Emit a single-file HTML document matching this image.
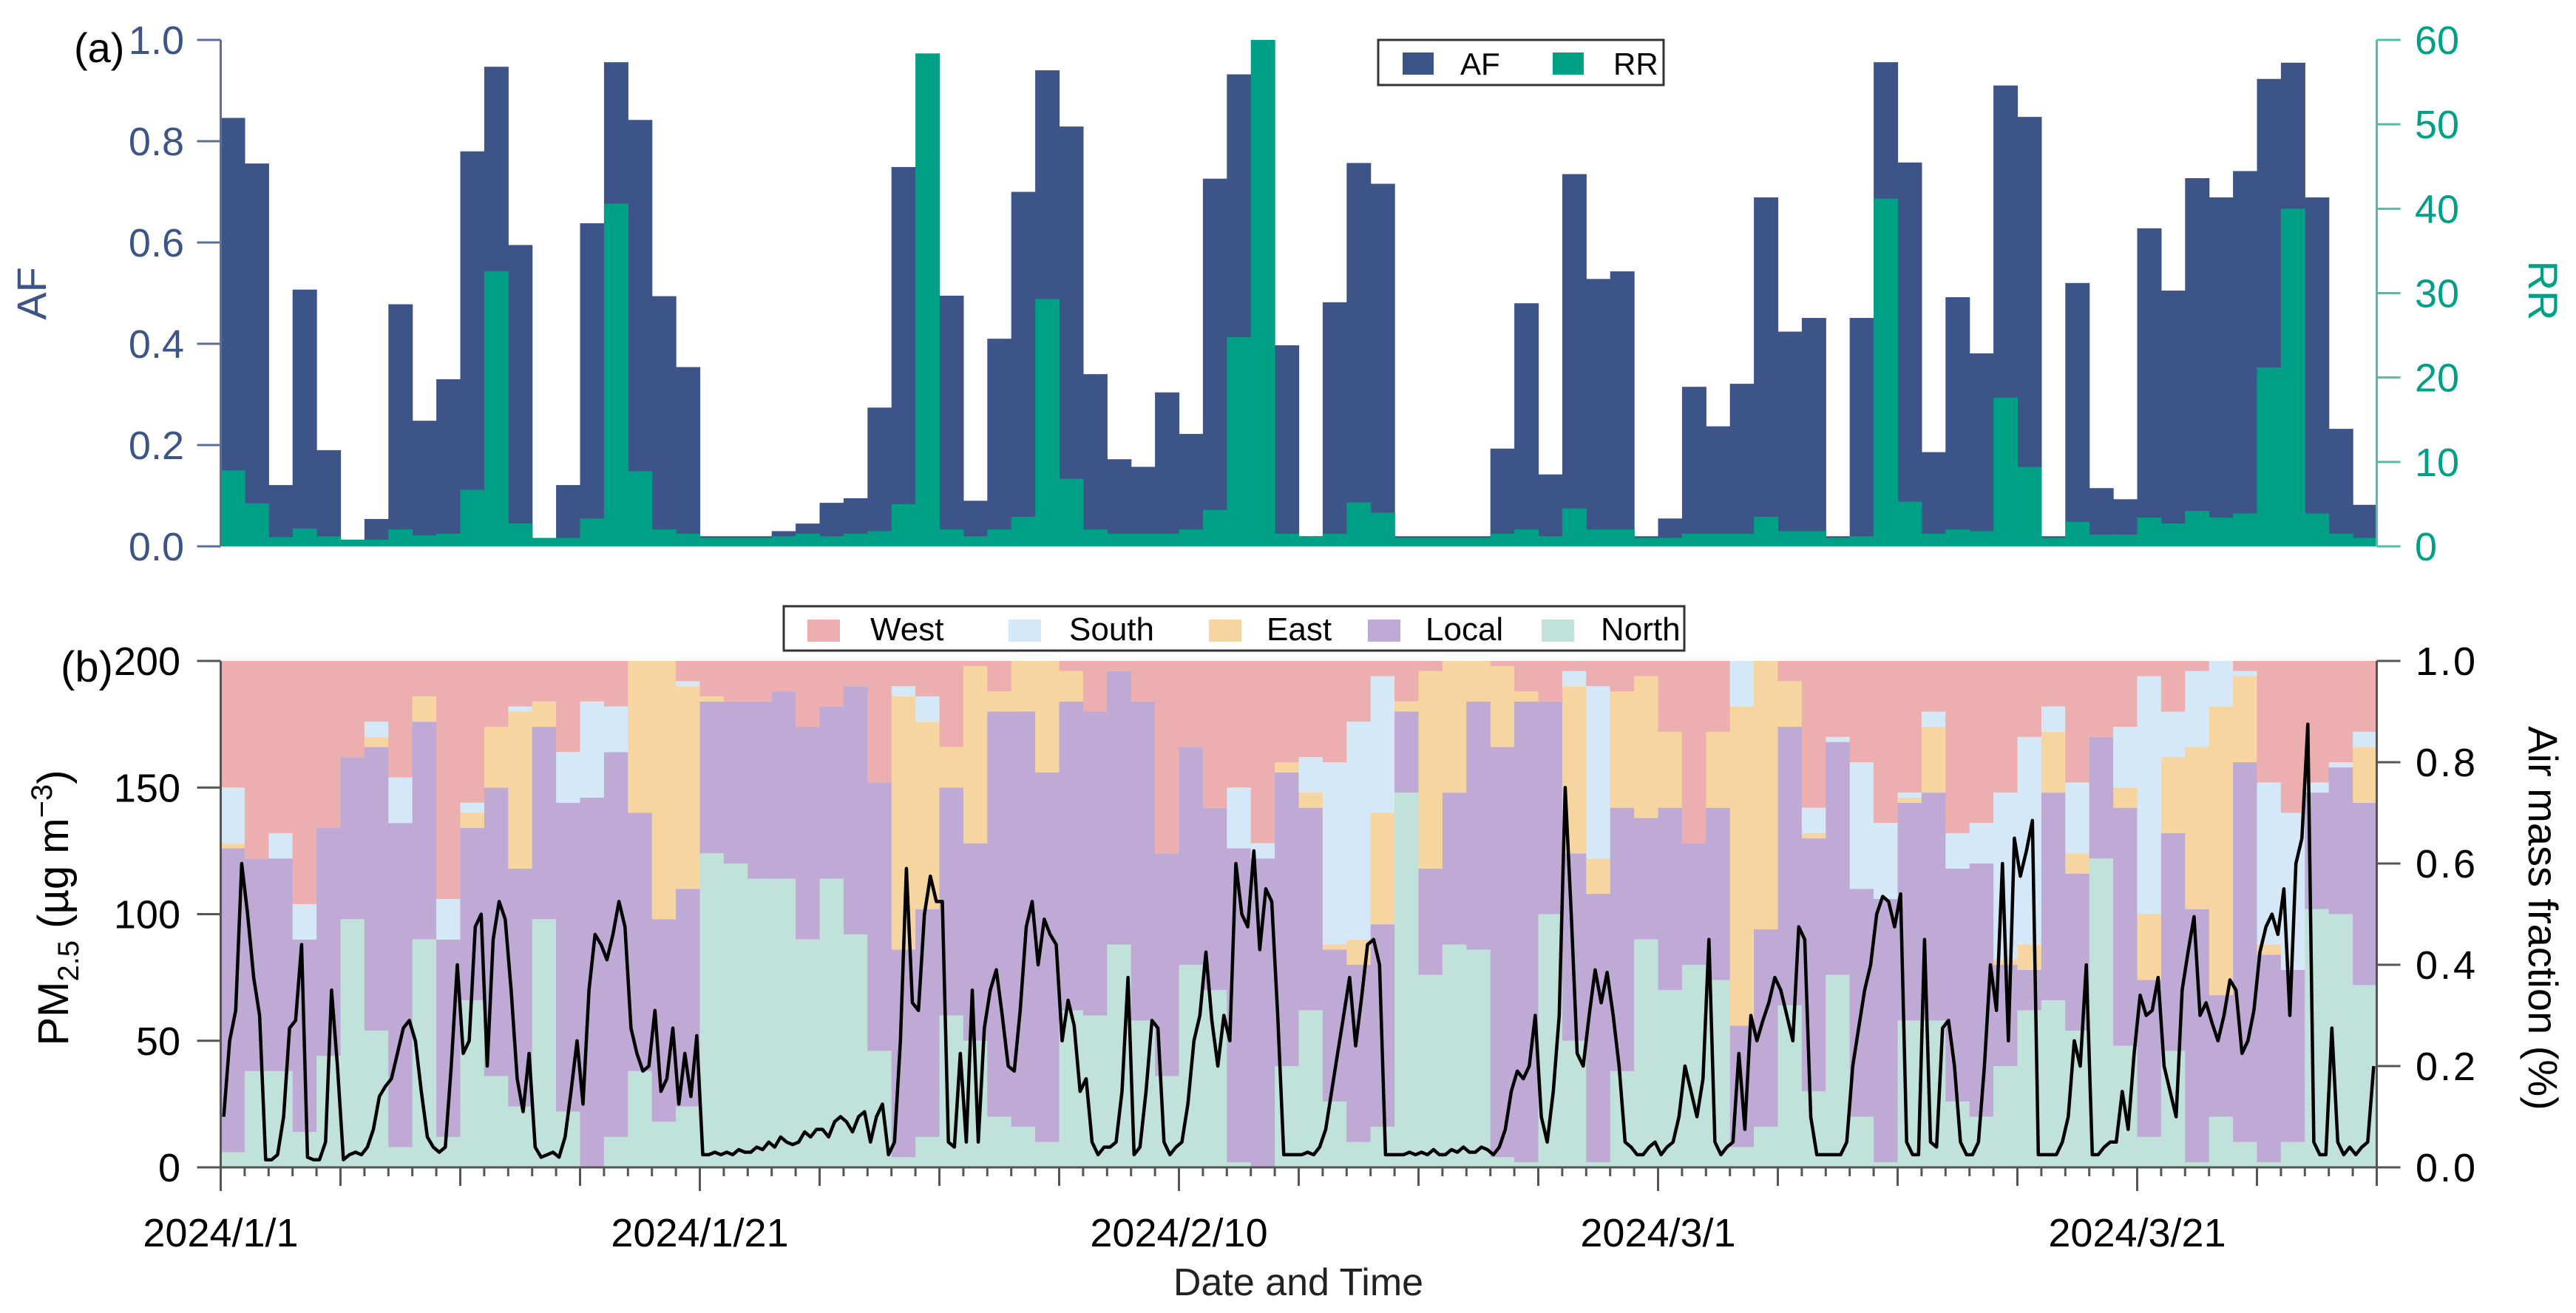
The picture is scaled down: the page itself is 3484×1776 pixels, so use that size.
<!DOCTYPE html>
<html>
<head>
<meta charset="utf-8">
<style>
html,body{margin:0;padding:0;background:#fff;}
svg{display:block;font-family:"Liberation Sans",Arial,sans-serif;}
</style>
</head>
<body>
<svg id="chart" width="3484" height="1776" viewBox="0 0 3484 1776" xmlns="http://www.w3.org/2000/svg">
<rect width="3484" height="1776" fill="#ffffff"/>
<g id="panelA"></g>
<g id="panelB"></g>
<text x="100" y="84" font-size="56" fill="#000">(a)</text>
<text x="82" y="922" font-size="58" fill="#000">(b)</text>
<text transform="translate(62,397) rotate(-90)" text-anchor="middle" font-size="56" fill="#3d5487">AF</text>
<text transform="translate(3420,393) rotate(90)" text-anchor="middle" font-size="56" fill="#00a087">RR</text>
<text transform="translate(92,1228) rotate(-90)" text-anchor="middle" font-size="58" fill="#000">PM<tspan font-size="40" dy="14">2.5</tspan><tspan dy="-14"> (µg m</tspan><tspan font-size="40" dy="-22">−3</tspan><tspan dy="22">)</tspan></text>
<text transform="translate(3420,1242) rotate(90)" text-anchor="middle" font-size="56" fill="#000">Air mass fraction (%)</text>
<text x="1756" y="1752" text-anchor="middle" font-size="52" fill="#222">Date and Time</text>
<g>
<rect x="1864" y="54" width="386" height="61" fill="#fff" stroke="#333" stroke-width="3"/>
<rect x="1897" y="71" width="42" height="30" fill="#3c5488"/>
<text x="1975" y="101" font-size="42" fill="#000">AF</text>
<rect x="2100" y="71" width="42" height="30" fill="#00a087"/>
<text x="2182" y="101" font-size="42" fill="#000">RR</text>
</g>
<g>
<rect x="1060" y="820" width="1218" height="60" fill="#fff" stroke="#333" stroke-width="3"/>
<rect x="1092" y="838" width="44" height="30" fill="#ecaeae"/>
<text x="1177" y="866" font-size="44" fill="#000">West</text>
<rect x="1364" y="838" width="44" height="30" fill="#d4e8f8"/>
<text x="1446" y="866" font-size="44" fill="#000">South</text>
<rect x="1635" y="838" width="44" height="30" fill="#f6d5a0"/>
<text x="1713" y="866" font-size="44" fill="#000">East</text>
<rect x="1850" y="838" width="44" height="30" fill="#bfaad5"/>
<text x="1928" y="866" font-size="44" fill="#000">Local</text>
<rect x="2085" y="838" width="44" height="30" fill="#c0e2da"/>
<text x="2165" y="866" font-size="44" fill="#000">North</text>
</g>
</svg>
<script>
const af = [0.846,0.756,0.121,0.507,0.19,0.012,0.054,0.478,0.248,0.33,0.78,0.947,0.595,0.015,0.121,0.638,0.956,0.842,0.494,0.354,
0.02,0.02,0.02,0.03,0.045,0.086,0.095,0.274,0.749,0.3,0.495,0.09,0.41,0.70,0.94,0.829,0.34,0.172,0.157,0.304,
0.222,0.726,0.932,0.3,0.397,0.02,0.482,0.757,0.716,0.02,0.02,0.02,0.02,0.193,0.48,0.142,0.735,0.528,0.543,0.02,
0.055,0.315,0.237,0.321,0.689,0.424,0.451,0.02,0.451,0.956,0.758,0.186,0.492,0.381,0.91,0.848,0.02,0.52,0.115,0.093,
0.628,0.505,0.727,0.689,0.741,0.923,0.955,0.689,0.232,0.082];
const rr = [9.0,5.1,1.1,2.1,1.2,0.8,0.8,2.0,1.3,1.5,6.7,32.6,2.7,1.0,1.0,3.3,40.6,8.9,2.0,1.5,
1.0,1.0,1.0,1.2,1.5,1.2,1.5,1.8,5.0,58.4,2.0,1.2,2.0,3.5,29.3,8.0,2.0,1.5,1.5,1.5,
2.0,4.3,24.8,60,1.5,1.2,1.5,5.2,4.0,1.0,1.0,1.0,1.0,1.5,2.0,1.2,4.5,2.0,2.0,1.0,
1.0,1.5,1.5,1.5,3.5,1.8,1.8,1.0,1.2,41.2,5.3,1.5,2.0,1.8,17.6,9.4,1.0,2.9,1.4,1.4,
3.4,2.7,4.2,3.4,3.9,21.2,40,3.9,1.5,1.0];
// air mass fractions (%) per day
const north = [3,19,19,7,22,49,27,4,45,6,33,18,12,49,11,0,6,19,9,12,62,60,57,57,45,57,46,23,2,6,30,25,10,8,5,31,30,44,29,18,40,35,1,0,20,31,13,5,8,74,38,44,43,2,1,50,25,1,19,45,35,40,37,4,8,32,15,38,10,1,29,29,13,10,20,31,33,27,61,24,6,23,1,10,5,1,5,51,50,36];
const local = [60,42,42,38,45,32,56,64,43,39,34,57,47,38,61,73,76,51,40,43,30,32,35,37,42,34,49,53,41,45,45,39,80,82,73,61,60,54,63,44,43,36,62,61,58,40,30,35,40,16,21,30,49,81,91,42,37,53,52,24,36,24,34,24,39,55,50,46,45,52,43,45,46,50,20,8,41,31,24,47,31,43,50,24,75,41,34,23,29,36];
const east = [1,0,0,0,0,0,2,0,5,0,3,12,31,5,0,0,0,30,51,40,1,0,0,0,0,0,0,0,50,37,8,35,4,10,22,6,0,0,0,0,0,0,0,0,2,3,1,5,22,2,39,26,8,16,2,0,33,7,23,28,15,0,15,63,53,9,1,0,0,0,1,13,0,0,1,5,12,4,0,4,13,15,32,57,17,2,0,0,0,11];
const south = [11,0,5,7,0,0,3,9,0,8,2,0,1,0,10,19,9,0,0,1,0,0,0,0,0,0,0,0,2,5,0,0,0,0,0,0,0,0,0,0,0,0,12,3,0,7,36,43,27,0,0,0,0,0,0,0,3,34,0,0,0,0,0,9,1,0,5,1,25,15,1,3,7,8,33,41,5,14,0,12,47,9,15,9,1,32,31,2,1,3];
const west = [25,39,34,48,33,19,12,22,7,47,28,13,9,8,17,8,9,0,0,4,7,8,8,6,13,9,5,24,5,5,17,1,6,0,0,2,10,2,8,38,17,29,25,36,20,19,20,12,3,8,2,0,0,0,6,8,2,5,6,3,14,36,14,0,0,3,29,15,20,32,26,9,34,33,26,15,9,24,15,12,3,11,2,0,2,24,30,24,20,14];
// PM2.5, 4 samples per day (6-hourly)
const pm = [20,50,62,120, 100,75,60,3, 3,5,20,55, 58,88,4,3, 3,10,70,40, 3,5,6,5, 8,15,28,32, 35,45,55,58, 50,30,12,8, 6,8,40,80,
45,50,95,100, 40,90,105,98, 70,35,22,45, 8,4,5,6, 4,12,30,50, 25,70,92,88, 82,92,105,95, 55,45,38,40, 62,30,35,55, 25,45,28,52,
5,5,6,5, 6,5,7,6, 6,8,7,10, 8,12,10,9, 10,14,12,15, 15,12,18,20, 18,14,20,22, 10,20,25,5, 10,50,118,65, 62,100,115,105,
105,10,8,45, 10,70,10,55, 70,78,60,40, 38,62,95,105, 80,98,92,88, 50,66,56,30, 35,10,5,8, 8,10,30,75, 5,8,30,58, 55,10,5,8,
10,25,50,60, 85,58,40,60, 50,120,100,95, 125,86,110,105, 60,5,5,5, 5,6,5,8, 15,30,45,60, 75,48,67,88, 90,80,5,5, 5,5,6,5,
6,5,7,5, 5,7,6,8, 6,6,8,7, 5,8,15,30, 38,35,40,60, 20,10,30,60, 150,100,45,40, 60,78,65,77, 60,40,10,8, 5,5,8,10,
5,8,10,20, 40,30,20,35, 90,10,5,8, 10,45,15,60, 50,58,65,75, 70,60,50,95, 90,20,5,5, 5,5,5,10, 40,55,70,80, 100,107,105,95,
108,10,5,5, 90,10,8,55, 58,40,10,5, 5,10,40,80, 62,120,50,130, 115,125,137,5, 5,5,5,10, 20,50,40,80, 5,5,8,10, 10,30,15,45,
68,60,62,75, 40,30,20,70, 85,99,60,65, 57,50,60,74, 70,45,50,62, 85,95,100,92, 110,60,120,130, 175,10,5,5, 55,10,5,8, 5,8,10,40];
const afTicks = ["0.0","0.2","0.4","0.6","0.8","1.0"];
const rrTicks = ["0","10","20","30","40","50","60"];
const pmTicks = ["0","50","100","150","200"];
const fracTicks = ["0.0","0.2","0.4","0.6","0.8","1.0"];
const dateLabels = ["2024/1/1","2024/1/21","2024/2/10","2024/3/1","2024/3/21"];

const NS = "http://www.w3.org/2000/svg";
const X0 = 298.5, DAYW = 32.4, NDAYS = 90, X1 = X0 + DAYW * NDAYS;
const A_TOP = 54, A_BOT = 739, B_TOP = 894, B_BOT = 1579;
const xDay = d => X0 + d * DAYW;
const yAF = v => A_BOT - v * (A_BOT - A_TOP);
const yRR = v => A_BOT - v / 60 * (A_BOT - A_TOP);
const yPM = v => B_BOT - v / 200 * (B_BOT - B_TOP);
const yFrac = v => B_BOT - v / 100 * (B_BOT - B_TOP);
function mk(tag, attrs, parent) {
  const e = document.createElementNS(NS, tag);
  for (const k in attrs) e.setAttribute(k, attrs[k]);
  parent.appendChild(e);
  return e;
}
const gA = document.getElementById('panelA');
const gB = document.getElementById('panelB');

// Panel A bars
af.forEach((v, i) => {
  const y = yAF(v);
  const r = mk('rect', {x: xDay(i), y: y, width: DAYW + 0.6, height: A_BOT - y, fill: '#3c5488'}, gA);
  
  
});
rr.forEach((v, i) => {
  const y = yRR(v);
  const r = mk('rect', {x: xDay(i), y: y, width: DAYW + 0.6, height: A_BOT - y, fill: '#00a087'}, gA);
  
  
});
// Panel A axes
let ax = mk('line', {x1: X0, y1: A_TOP, x2: X0, y2: A_BOT, stroke: '#5b6f9c', 'stroke-width': 3}, gA);


ax = mk('line', {x1: X1, y1: A_TOP, x2: X1, y2: A_BOT, stroke: '#4dbfa8', 'stroke-width': 3}, gA);


afTicks.forEach((t, i) => {
  const y = yAF(i * 0.2);
  mk('line', {x1: X0 - 32, y1: y, x2: X0, y2: y, stroke: '#5b6f9c', 'stroke-width': 3}, gA);
  const tx = mk('text', {x: 249, y: y + 19, 'text-anchor': 'end', 'font-size': 54, fill: '#3d5487'}, gA);
  tx.textContent = t;
  
  
});
rrTicks.forEach((t, i) => {
  const y = yRR(i * 10);
  mk('line', {x1: X1, y1: y, x2: X1 + 32, y2: y, stroke: '#4dbfa8', 'stroke-width': 3}, gA);
  const tx = mk('text', {x: 3266, y: y + 19, 'font-size': 54, fill: '#00a087'}, gA);
  tx.textContent = t;
  
  
});

// Panel B stacked air masses
const layers = [[north, '#c0e2da', 'north'], [local, '#bfaad5', 'local'], [east, '#f6d5a0', 'east'], [south, '#d4e8f8', 'south'], [west, '#ecaeae', 'west']];
for (let i = 0; i < NDAYS; i++) {
  let cum = 0;
  layers.forEach(([arr, col, nm]) => {
    const v = arr[i];
    const y1 = yFrac(Math.min(cum + v, 100)), y0 = yFrac(cum);
    cum += v;
    const isWest = nm === 'west';
    const top = isWest ? B_TOP : y1;
    if (y0 - top <= 0) return;
    const r = mk('rect', {x: xDay(i), y: top, width: DAYW + 0.6, height: y0 - top, fill: col}, gB);
    
    
  });
}
// PM2.5 line
let d = '';
pm.forEach((v, i) => {
  const x = X0 + (i + 0.5) * DAYW / 4;
  d += (i ? 'L' : 'M') + x.toFixed(1) + ',' + yPM(v).toFixed(1);
});
const line = mk('path', {d: d, fill: 'none', stroke: '#000', 'stroke-width': 4.5, 'stroke-linejoin': 'round'}, gB);



// Panel B axes
ax = mk('line', {x1: X0, y1: B_TOP, x2: X0, y2: B_BOT, stroke: '#555', 'stroke-width': 3}, gB);


ax = mk('line', {x1: X1, y1: B_TOP, x2: X1, y2: B_BOT, stroke: '#555', 'stroke-width': 3}, gB);


ax = mk('line', {x1: X0, y1: B_BOT, x2: X1, y2: B_BOT, stroke: '#555', 'stroke-width': 3}, gB);


pmTicks.forEach((t, i) => {
  const y = yPM(i * 50);
  mk('line', {x1: X0 - 32, y1: y, x2: X0, y2: y, stroke: '#555', 'stroke-width': 3}, gB);
  const tx = mk('text', {x: 244, y: y + 19, 'text-anchor': 'end', 'font-size': 54, fill: '#000'}, gB);
  tx.textContent = t;
  
  
});
fracTicks.forEach((t, i) => {
  const y = yFrac(i * 20);
  mk('line', {x1: X1, y1: y, x2: X1 + 32, y2: y, stroke: '#555', 'stroke-width': 3}, gB);
  const tx = mk('text', {x: 3267, y: y + 19, 'font-size': 54, fill: '#000', 'letter-spacing': 3}, gB);
  tx.textContent = t;
  
  
});
for (let i = 0; i <= NDAYS; i++) {
  const x = xDay(i);
  const len = (i % 20 === 0) ? 32 : (i % 5 === 0 ? 25 : 12);
  mk('line', {x1: x, y1: B_BOT, x2: x, y2: B_BOT + len, stroke: '#555', 'stroke-width': 3}, gB);
}
dateLabels.forEach((t, k) => {
  const tx = mk('text', {x: xDay(k * 20), y: 1686, 'text-anchor': 'middle', 'font-size': 54, fill: '#000'}, gB);
  tx.textContent = t;
  
  
});
</script>
</body>
</html>
